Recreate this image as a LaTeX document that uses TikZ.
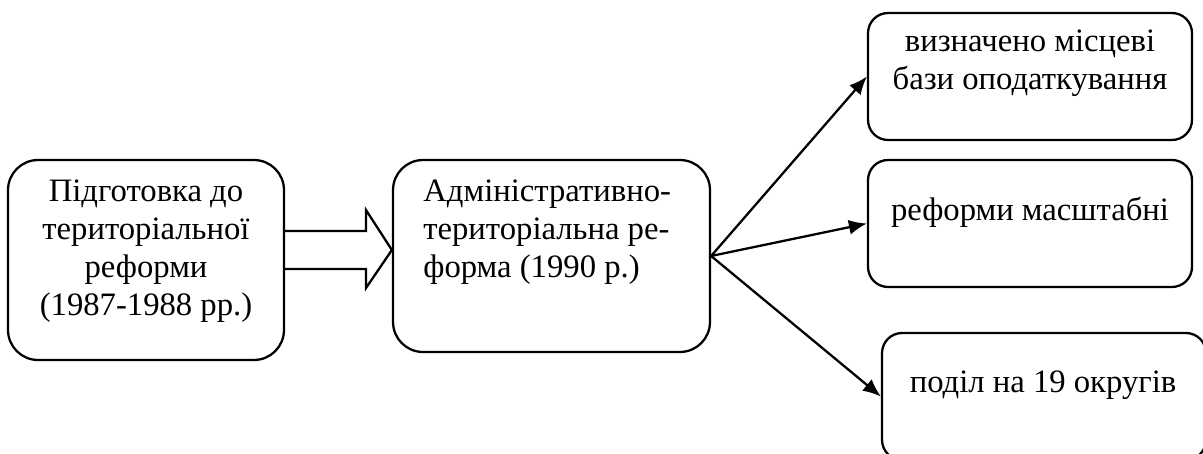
\documentclass[tikz,border=0pt]{standalone}
\usepackage{fontspec}
\setmainfont{Liberation Serif}
\usetikzlibrary{arrows.meta,calc}

\tikzset{
	blok/.style={draw, line width=1.3pt, rounded corners=0.6cm, inner sep=0pt},
	blokm/.style={draw, line width=1.3pt, rounded corners=0.4cm, inner sep=0pt, minimum width=6.48cm, minimum height=2.54cm},
	napys/.style={inner sep=0pt, align=center, font=\fontsize{18.6pt}{21.6pt}\selectfont},
	strilka/.style={line width=1.3pt, -{Latex[length=0.36cm,width=0.3cm]}}
}

\begin{document}
\begin{tikzpicture}[x=0.02cm,y=-0.02cm]
				  \useasboundingbox (0,0) rectangle (1203,453);
				  \clip (0,0) rectangle (1203,453);
				  %PIDGOTOVKA
				  \node[blok, minimum width=5.52cm, minimum height=4cm] (B1) at (146,260) {};
				  \node[napys] (T1) at (146,251) {Підготовка до\\територіальної\\реформи\\(1987-1988 рр.)};
				  %REFORMA
				  \node[blok, minimum width=6.34cm, minimum height=3.84cm] (B2) at (551.5,256) {};
				  \node[napys, align=left, anchor=north west] (T2) at (423,180) {Адміністративно-\\територіальна ре-\\форма (1990 р.)};
				  %NASLIDKY
				  \node[blokm] (B3) at (1030,76.5) {};
				  \node[napys] (T3) at (1030,63) {визначено місцеві\\бази оподаткування};
				  \node[blokm] (B4) at (1030,223.5) {};
				  \node[napys] (T4) at (1030,212) {реформи масштабні};
				  \node[blokm] (B5) at (1044,396.5) {};
				  \node[napys] (T5) at (1043,385) {поділ на 19 округів};
				  %B1 => B2
				  \draw[line width=1.3pt, line join=miter] (B1.east |- 0,231) -- (366,231) -- (366,210) -- (B2.west |- 0,250) -- (366,288) -- (366,269) -- (B1.east |- 0,269);
				  %B2 -> B3,B4,B5
				  \draw[strilka] (B2.east) -- (B3.west);
				  \draw[strilka] (B2.east) -- (B4.west);
				  \draw[strilka] (B2.east) -- (B5.west);
\end{tikzpicture}
\end{document}
